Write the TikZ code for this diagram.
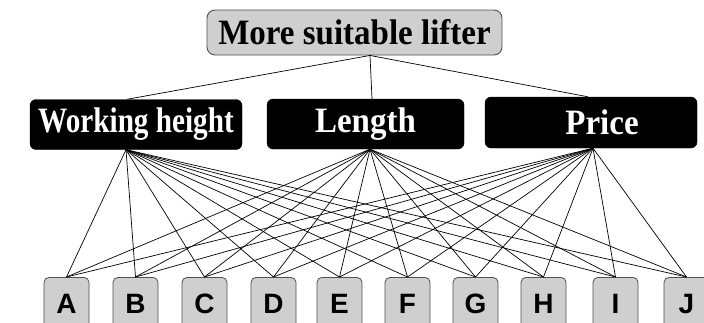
\documentclass[tikz,border=0pt]{standalone}
\usepackage{fontspec}
\setmainfont{Liberation Serif}
\newfontfamily\letterfont{Liberation Sans}
\usetikzlibrary{calc}
\definecolor{boxgray}{HTML}{CFCFCF}
\definecolor{edgegray}{HTML}{505050}
\newcommand{\tallt}[2][1]{\scalebox{#1}[1.08]{#2}}
\begin{document}
\begin{tikzpicture}[x=1pt,y=-1pt,
  topbox/.style={draw=edgegray, line width=0.9pt, fill=boxgray, rounded corners=8pt, inner sep=0pt,
    minimum width=295pt, minimum height=45pt,
    font=\fontsize{33}{36}\selectfont\bfseries},
  critbox/.style={draw=black, fill=black, rounded corners=6pt, inner sep=0pt, text=white,
    minimum height=50pt, font=\fontsize{33}{36}\selectfont\bfseries},
  altbox/.style={draw=edgegray, line width=0.8pt, fill=boxgray, rounded corners=5pt, inner sep=0pt,
    minimum width=45pt, minimum height=53pt, anchor=north,
    font=\letterfont\fontsize{28}{30}\selectfont\bfseries},
  link/.style={draw=black, line width=0.7pt}]
\useasboundingbox (0,0) rectangle (704,322);
\begin{scope}
\clip (0,0) rectangle (704,322);
% top
\node[topbox] (top) at (354.5,32.5) {\tallt{More suitable lifter}};
% criteria
\node[critbox, minimum width=212pt] (wh) at (136,124.5) {\tallt[0.885]{Working height}};
\node[critbox, minimum width=197pt] (len) at (365.5,124) {\tallt{Length}};
\node[critbox, minimum width=212pt, minimum height=51pt] (pr) at (591,122.5) {\hspace*{22pt}\tallt{Price}};
% alternatives
\foreach \n/\x in {A/66.5,B/135.5,C/204.5,D/273.5,E/339.5,F/407.5,G/475.5,H/543.5,I/615.5,J/686.5}{
  \node[altbox] (\n) at (\x,277) {\n};
}
% connector points
\coordinate (tb) at ([xshift=15.5pt]top.south);
\coordinate (wht) at ([xshift=-9pt]wh.north);
\coordinate (lent) at ([xshift=6.5pt]len.north);
\coordinate (prt) at ([xshift=-3pt]pr.north);
\coordinate (whb) at ([xshift=-10pt]wh.south);
\coordinate (lenb) at ([xshift=4.5pt]len.south);
\coordinate (prb) at ([xshift=2pt]pr.south);
\draw[link] (tb) -- (wht);
\draw[link] (tb) -- (lent);
\draw[link] (tb) -- (prt);
\foreach \c in {whb,lenb,prb}{
  \foreach \n in {A,B,C,D,E,F,G,H,I,J}{
    \draw[link] (\c) -- (\n.north);
  }
}
\end{scope}
\end{tikzpicture}
\end{document}
